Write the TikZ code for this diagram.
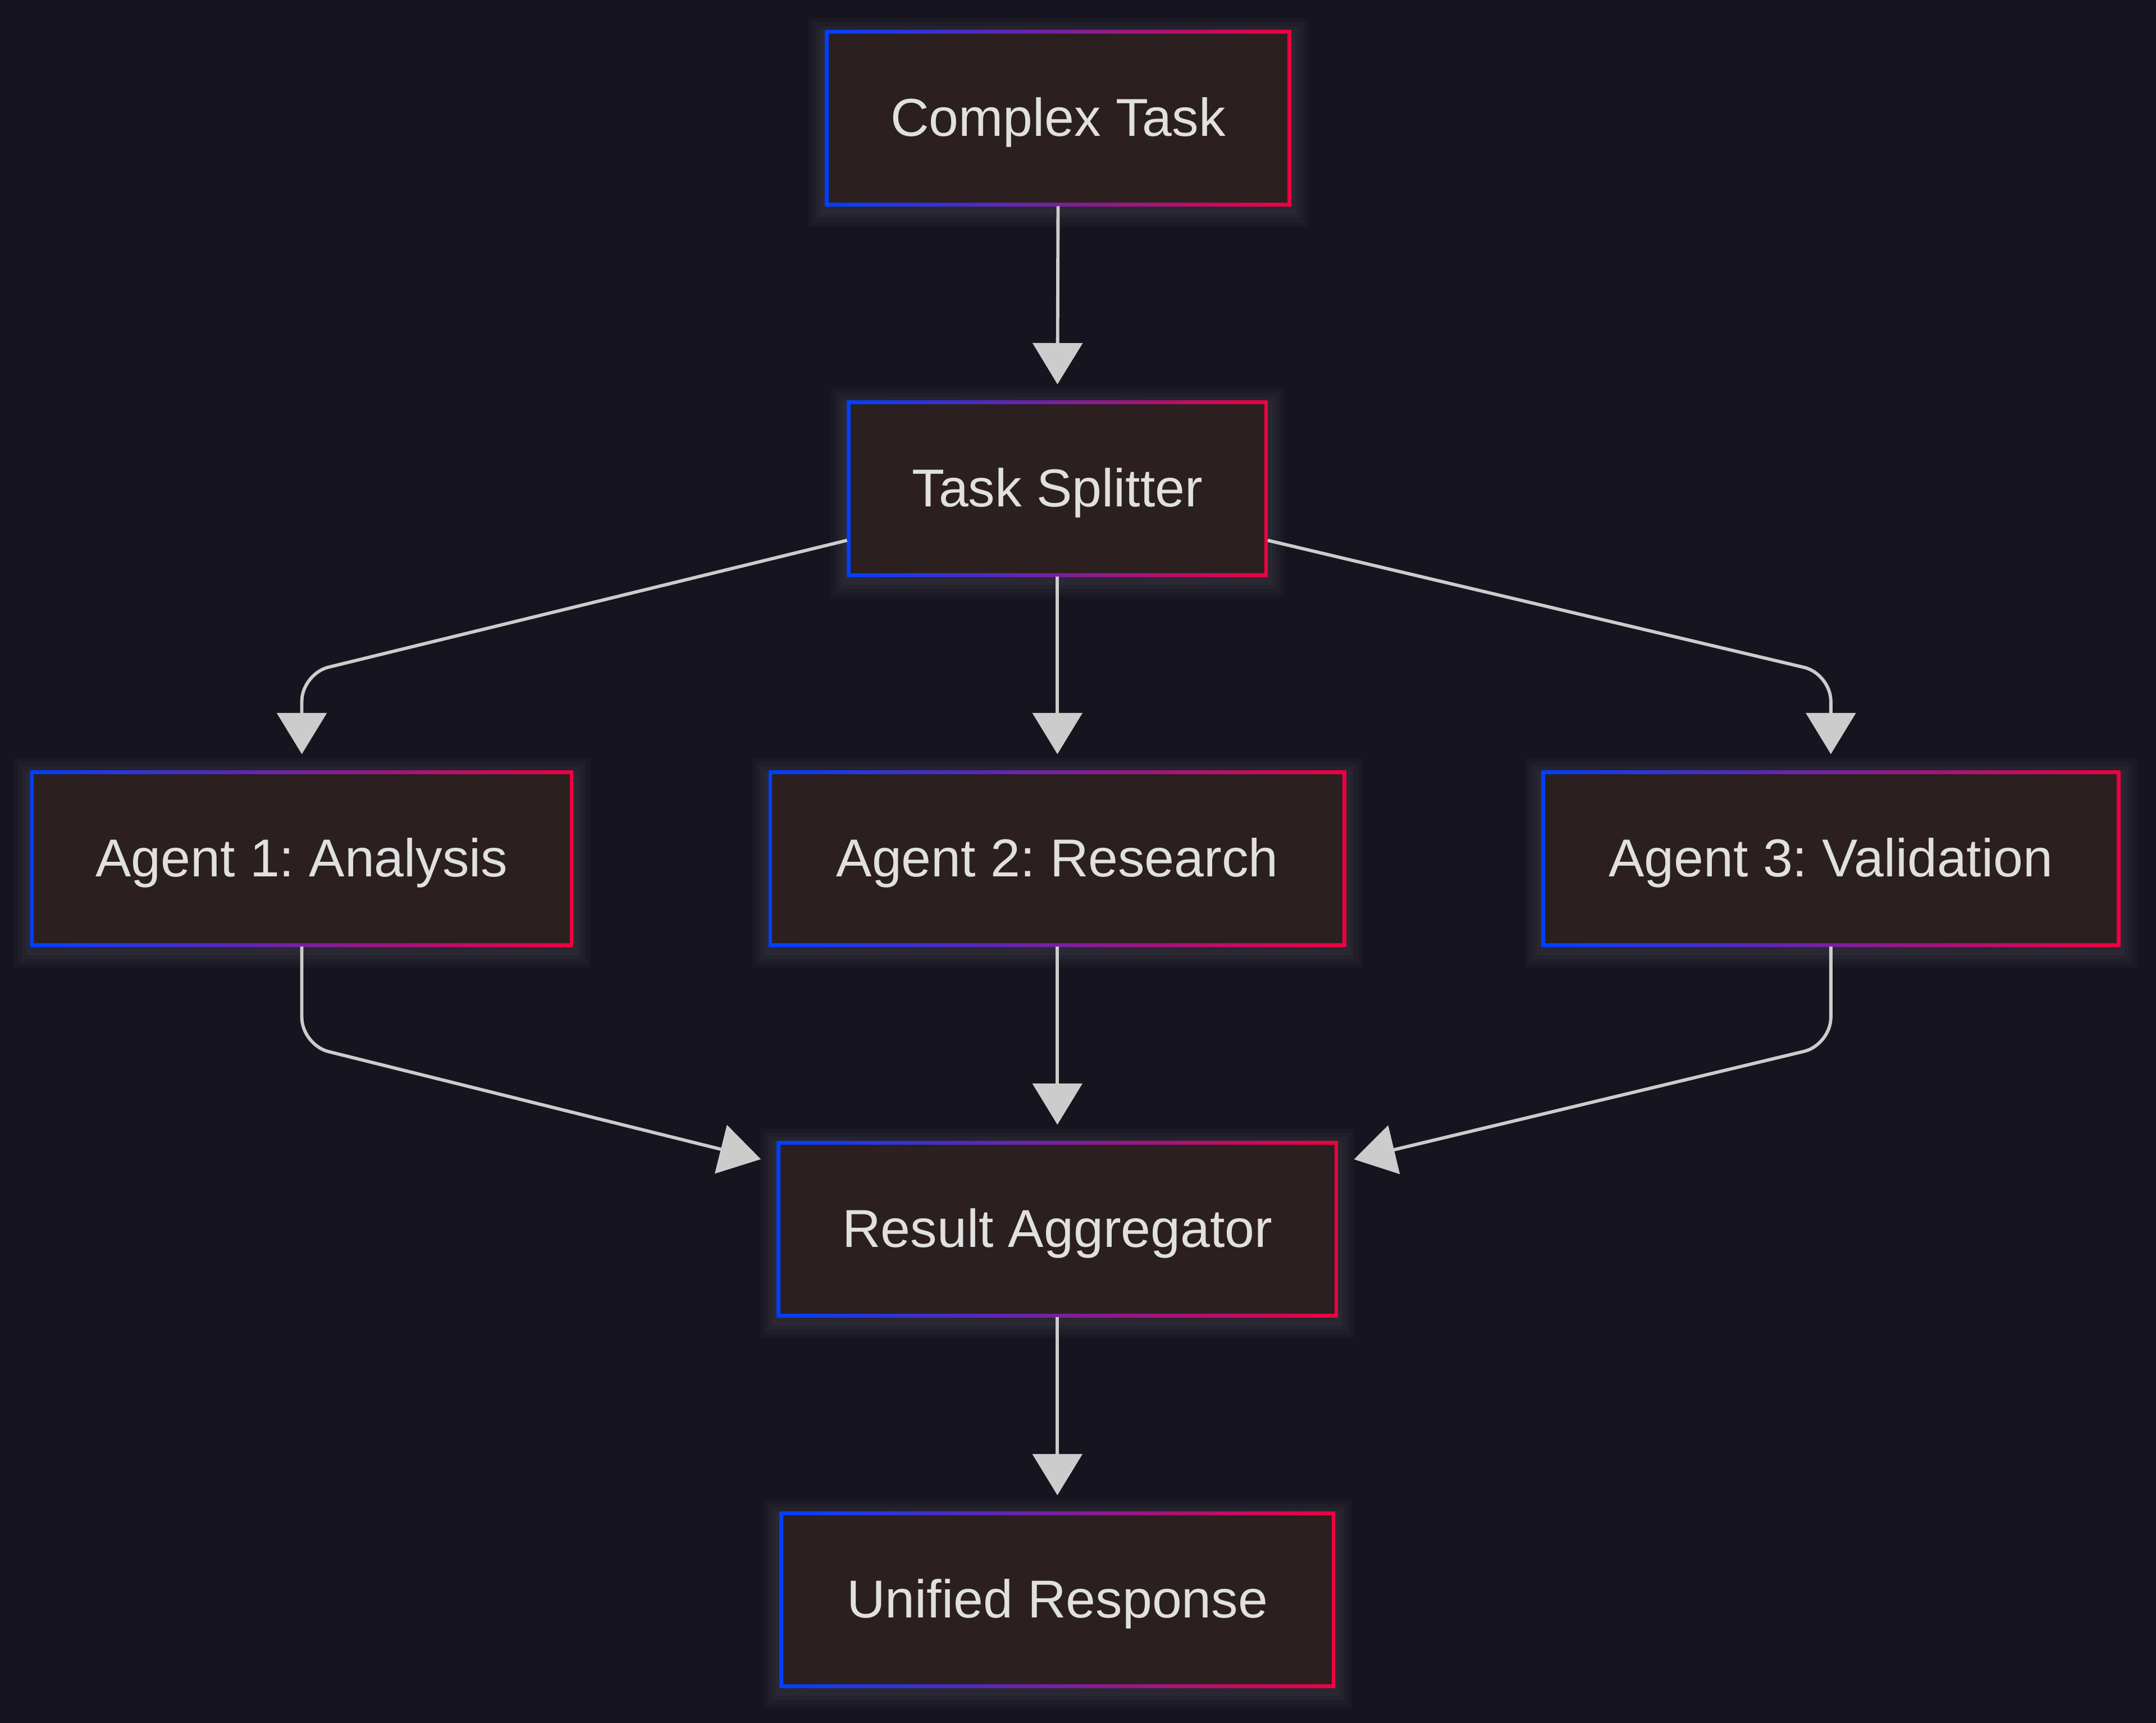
\documentclass[tikz,border=0pt]{standalone}
\usepackage{fontspec}
\setmainfont{Liberation Sans}
\frenchspacing
\usetikzlibrary{arrows.meta,calc,backgrounds}
\definecolor{bgc}{HTML}{16141F}
\definecolor{nodefill}{HTML}{2B201F}
\definecolor{txtc}{HTML}{E0E0E0}
\definecolor{edgec}{HTML}{CCCCCC}
\definecolor{bluec}{HTML}{0040FF}
\definecolor{redc}{HTML}{F00040}
\tikzset{
  box/.style={rectangle, inner sep=0pt, outer sep=0pt, minimum height=64pt,
    fill=nodefill, text=txtc, font=\fontsize{19.4pt}{23pt}\selectfont,
    text depth=1pt,
    path picture={
      \shade[left color=bluec, right color=redc]
        (path picture bounding box.south west) rectangle (path picture bounding box.north east);
      \fill[nodefill]
        ([shift={(1.3pt,1.3pt)}]path picture bounding box.south west) rectangle
        ([shift={(-1.3pt,-1.3pt)}]path picture bounding box.north east);
    }},
  conn/.style={draw=edgec, line width=1.2pt, rounded corners=10pt,
    -{Triangle[width=18pt,length=15pt,fill=edgec]}, shorten >=6pt},
}
\begin{document}
\begin{tikzpicture}[x=0.5pt,y=-0.5pt]
\useasboundingbox (0,0) rectangle (1568,1253);
\node[box, minimum width=169.5pt] (ct) at (769.5,86) {Complex Task};
\node[box, minimum width=153pt] (ts) at (769,355.5) {Task Splitter};
\node[box, minimum width=197.5pt] (a1) at (219.5,624.5) {Agent 1: Analysis};
\node[box, minimum width=210pt] (a2) at (769,624.5) {Agent 2: Research};
\node[box, minimum width=210.5pt] (a3) at (1331.5,624.5) {Agent 3: Validation};
\node[box, minimum width=204pt] (ra) at (769,894) {Result Aggregator};
\node[box, minimum width=202pt] (ur) at (769,1163.5) {Unified Response};
\begin{pgfonlayer}{background}
  \fill[bgc] (0,0) rectangle (1568,1253);
  \foreach \n in {ct,ts,a1,a2,a3,ra,ur}{
    \foreach \e in {3,6,9,12}{
      \fill[white, opacity=0.022]
        ($(\n.south west)+(-\e,\e+3)$) rectangle ($(\n.north east)+(\e,-\e+3)$);
    }
  }
\end{pgfonlayer}
\draw[conn] (ct.south) -- (ts.north);
\draw[conn] (ts.south) -- (a2.north);
\draw[conn] ($(ts.west)+(0,37.5)$) -- (a1.north |- 0,490) -- (a1.north);
\draw[conn] ($(ts.east)+(0,37.5)$) -- (a3.north |- 0,490) -- (a3.north);
\draw[conn] (a2.south) -- (ra.north);
\draw[conn] (a1.south) -- (a1.south |- 0,760) -- ($(ra.west)+(0,-48)$);
\draw[conn] (a3.south) -- (a3.south |- 0,760) -- ($(ra.east)+(0,-48)$);
\draw[conn] (ra.south) -- (ur.north);
\end{tikzpicture}
\end{document}
